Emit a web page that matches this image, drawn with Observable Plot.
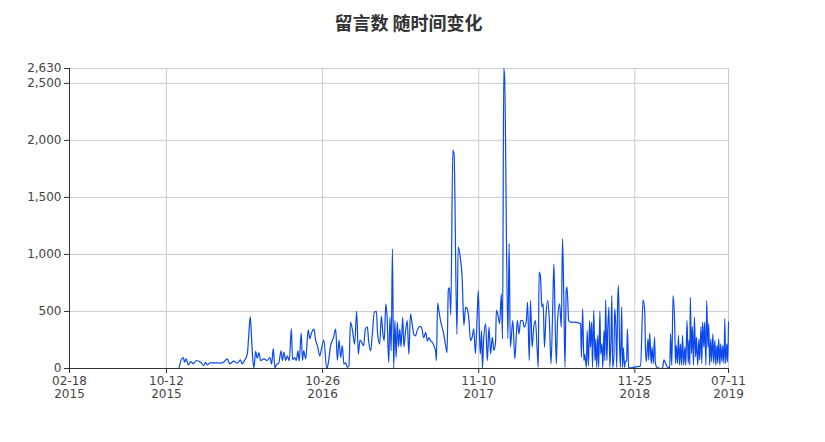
<!DOCTYPE html>
<html>
<head>
<meta charset="utf-8">
<script src="https://cdn.jsdelivr.net/npm/d3@7"></script>
<script src="https://cdn.jsdelivr.net/npm/@observablehq/plot@0.6"></script>
<style>
  html, body { margin: 0; padding: 0; background: #fff; }
  #title { height: 44px; line-height: 44px; text-align: center; font-family: "Noto Sans CJK SC", sans-serif; font-weight: bold; font-size: 18px; color: #333; width: 817px; }
</style>
</head>
<body>
<div id="title">留言数 随时间变化</div>
<div id="chart"></div>
<script>
const titleText = "留言数 随时间变化";
const startDate = "2015-02-18";
const endDate = "2019-07-11";

// days since 2015-02-18
const dayOffsets = [
  0, 265, 272, 277, 280, 284, 289, 295, 301, 309, 319, 327, 331, 335, 343, 360, 368, 375, 384, 390,
  400, 408, 416, 420, 426, 433, 436, 440, 443, 446, 449, 453, 457, 461, 465, 473, 481, 488, 492, 496,
  500, 504, 509, 515, 518, 522, 526, 530, 535, 540, 543, 548, 552, 556, 559, 564, 567, 570, 575, 581,
  585, 589, 595, 599, 604, 609, 613, 619, 626, 630, 635, 643, 648, 652, 656, 660, 664, 668, 672, 676,
  680, 684, 689, 694, 699, 703, 707, 711, 716, 720, 725, 728, 733, 737, 742, 747, 750, 755, 759, 763,
  766, 770, 773, 777, 780, 783, 786, 789, 792, 795, 798, 801, 804, 807, 811, 814, 818, 822, 826, 830,
  834, 838, 842, 846, 854, 858, 862, 867, 871, 875, 879, 883, 887, 891, 893, 896, 899, 903, 907, 911,
  915, 919, 922, 925, 928, 933, 936, 943, 946, 952, 956, 958, 960, 964, 968, 972, 976, 980, 984, 988,
  992, 995, 998, 1000, 1003, 1005, 1008, 1013, 1017, 1021, 1025, 1029, 1033, 1037, 1039, 1043, 1047, 1051, 1054, 1057,
  1059, 1067, 1070, 1073, 1079, 1084, 1090, 1094, 1098, 1103, 1107, 1112, 1115, 1119, 1122, 1126, 1130, 1134, 1138, 1141,
  1143, 1146, 1150, 1153, 1156, 1160, 1164, 1168, 1172, 1176, 1179, 1182, 1185, 1188, 1193, 1197, 1200, 1203, 1206, 1209,
  1211, 1215, 1219, 1227, 1239, 1244, 1246, 1249, 1252, 1254, 1258, 1260, 1263, 1266, 1268, 1271, 1273, 1276, 1279, 1281,
  1283, 1286, 1288, 1291, 1293, 1296, 1298, 1301, 1303, 1305, 1308, 1310, 1313, 1315, 1318, 1320, 1322, 1325, 1327, 1330,
  1332, 1334, 1336, 1339, 1341, 1344, 1346, 1348, 1351, 1353, 1356, 1358, 1361, 1365, 1378, 1385, 1390, 1396, 1400, 1402,
  1404, 1408, 1410, 1412, 1416, 1418, 1421, 1424, 1426, 1430, 1443, 1447, 1451, 1456, 1461, 1463, 1466, 1469, 1473, 1475,
  1477, 1480, 1482, 1485, 1487, 1490, 1492, 1495, 1498, 1500, 1503, 1506, 1508, 1510, 1511, 1514, 1516, 1519, 1521, 1524,
  1526, 1529, 1532, 1534, 1537, 1539, 1541, 1544, 1546, 1549, 1551, 1554, 1556, 1558, 1561, 1563, 1566, 1568, 1571, 1573,
  1576, 1578, 1580, 1583, 1585, 1588, 1590, 1593, 1595, 1597, 1600, 1602, 1604
];

const messageCounts = [
  0, 0, 76, 96, 55, 85, 32, 61, 41, 70, 55, 26, 55, 32, 50, 50, 47, 55, 85, 41,
  64, 47, 76, 41, 70, 131, 275, 456, 275, 85, 5, 150, 90, 140, 70, 85, 70, 96, 38, 175,
  5, 38, 44, 155, 70, 143, 70, 110, 70, 348, 76, 96, 70, 155, 64, 313, 70, 155, 85, 339,
  260, 310, 345, 250, 192, 110, 166, 250, 0, 50, 190, 275, 345, 70, 250, 96, 200, 38, 50, 10,
  20, 406, 330, 213, 500, 125, 250, 230, 200, 345, 366, 243, 155, 300, 494, 500, 300, 213, 460, 300,
  243, 567, 450, 53, 450, 155, 1050, 0, 420, 96, 406, 190, 345, 190, 450, 190, 330, 420, 125, 480,
  390, 300, 285, 330, 370, 345, 270, 316, 243, 270, 243, 230, 200, 155, 70, 573, 510, 420, 360, 300,
  213, 140, 684, 710, 470, 1915, 1880, 300, 1064, 947, 772, 538, 380, 538, 523, 436, 245, 274, 348, 129,
  436, 684, 274, 129, 333, 0, 245, 392, 70, 362, 129, 274, 158, 231, 509, 465, 392, 655, 260, 2630,
  2560, 263, 1096, 187, 421, 85, 421, 304, 421, 421, 362, 421, 582, 70, 596, 187, 362, 421, 187, 12,
  845, 816, 538, 567, 187, 480, 596, 421, 41, 509, 918, 421, 41, 421, 567, 362, 1137, 655, 12, 684,
  713, 421, 406, 406, 400, 392, 99, 523, 70, 126, 9, 333, 23, 421, 184, 406, 9, 509, 70, 260,
  9, 290, 9, 500, 126, 216, 9, 333, 70, 602, 70, 333, 538, 9, 275, 640, 9, 100, 523, 333,
  9, 538, 728, 184, 9, 538, 9, 184, 9, 60, 70, 345, 9, 5, 15, 18, 20, 602, 509, 158,
  60, 260, 73, 310, 44, 187, 44, 275, 44, 9, 0, 76, 44, 9, 9, 304, 29, 640, 392, 44,
  202, 44, 290, 29, 216, 29, 290, 29, 187, 29, 421, 44, 248, 29, 625, 131, 365, 29, 450, 102,
  275, 29, 260, 73, 365, 44, 406, 187, 406, 29, 596, 187, 392, 29, 260, 58, 304, 44, 248, 29,
  202, 44, 260, 29, 216, 58, 202, 44, 435, 44, 216, 58, 406
];

const xTickDates = ["2015-02-18", "2015-10-12", "2016-10-26", "2017-11-10", "2018-11-25", "2019-07-11"];
const yTicks = [0, 500, 1000, 1500, 2000, 2500, 2630];

const start = new Date(startDate + "T00:00:00Z");
const end = new Date(endDate + "T00:00:00Z");
const xTicks = xTickDates.map(s => new Date(s + "T00:00:00Z"));
const data = dayOffsets.map((d, i) => ({date: d3.utcDay.offset(start, d), count: messageCounts[i]}));

const fmtMD = d3.utcFormat("%m-%d");
const fmtY = d3.utcFormat("%Y");
const fmtNum = d3.format(",d");

const chart = Plot.plot({
  width: 825,
  height: 374,
  marginTop: 24,
  marginLeft: 69,
  marginRight: 97,
  marginBottom: 50,
  style: {fontFamily: "'DejaVu Sans', 'Noto Sans', sans-serif", fontSize: "12px", color: "#333", background: "#fff"},
  x: {type: "utc", domain: [start, end]},
  y: {domain: [0, 2630]},
  marks: [
    Plot.gridX(xTicks, {stroke: "#ccc", strokeOpacity: 1}),
    Plot.gridY(yTicks, {stroke: "#ccc", strokeOpacity: 1}),
    Plot.line(data, {x: "date", y: "count", stroke: "#0b48ee", strokeWidth: 1.2, curve: "monotone-x"}),
    Plot.axisX(xTicks, {tickFormat: d => fmtMD(d) + "\n" + fmtY(d), tickSize: 5, tickPadding: 2, lineHeight: 1.1, label: null, stroke: "#333", fill: "#444"}),
    Plot.axisY(yTicks, {tickFormat: d => fmtNum(d), tickSize: 5, tickPadding: 3, label: null, stroke: "#333", fill: "#444"}),
    Plot.ruleX([start], {stroke: "#333"}),
    Plot.ruleY([0], {stroke: "#333"})
  ]
});
document.getElementById("chart").appendChild(chart);
</script>
</body>
</html>
